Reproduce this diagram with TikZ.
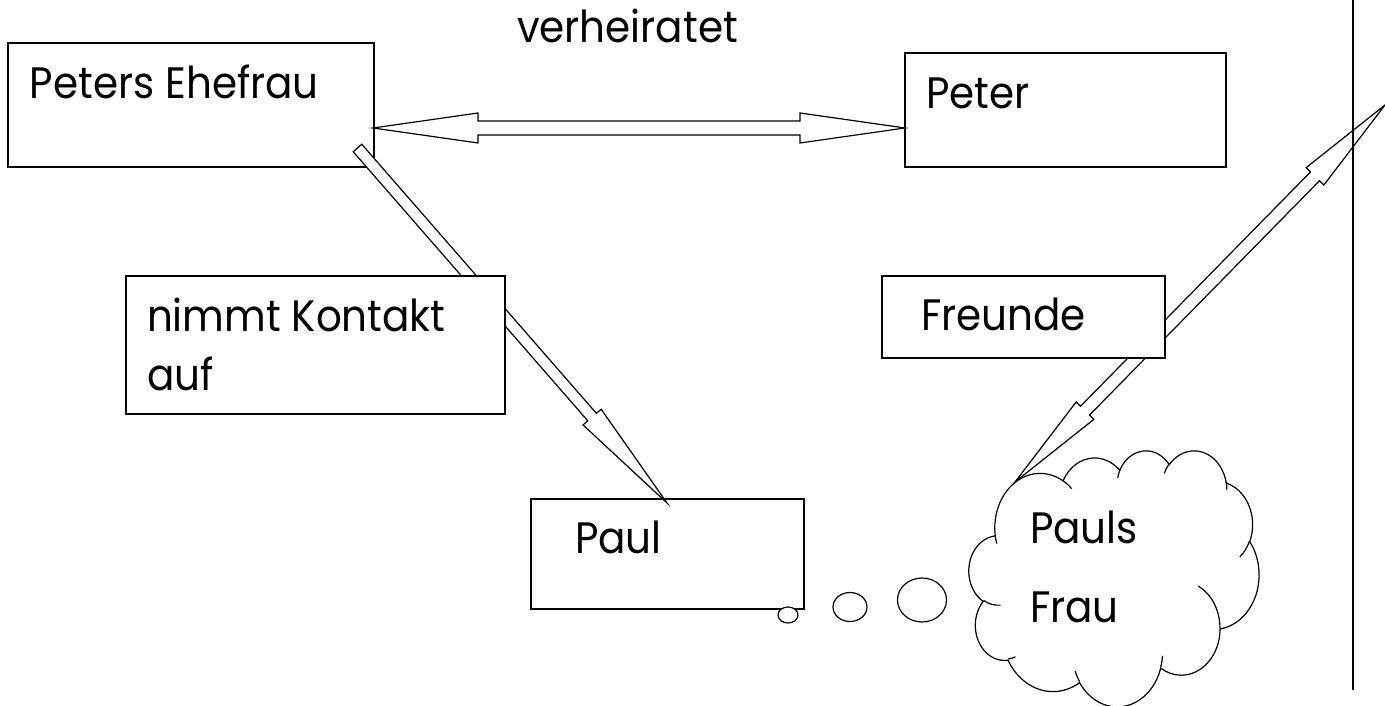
\documentclass[tikz,border=0pt]{standalone}
\usepackage{fontspec}
\setmainfont{Poppins}[FakeStretch=0.92]
\usetikzlibrary{calc,shapes.geometric}

\tikzset{
  box/.style={draw, line width=1.7pt, fill=white, inner sep=0pt, outer sep=0pt},
  txt/.style={font=\fontsize{44}{50}\selectfont, anchor=base west, inner sep=0pt, outer sep=0pt},
  fat/.style={draw, line width=1.2pt, fill=white, line join=miter},
  bubble/.style={ellipse, draw, line width=1.2pt, fill=white, inner sep=0pt},
  oarc/.style n args={4}{insert path={arc[x radius=#1, y radius=#2, start angle={pa(#1,#2,#3)}, delta angle={mod(pa(#1,#2,#3+#4)-pa(#1,#2,#3)+720,360)}]}},
}

\newcommand\fatarrow[5]{%
  \coordinate (fac) at ($(#2)!#5pt!(#1)$);
  \draw[fat] ($(#1)!#3pt!90:(#2)$) -- ($(fac)!#3pt!90:(#2)$) -- ($(fac)!#4pt!90:(#2)$) -- (#2)
    -- ($(fac)!#4pt!-90:(#2)$) -- ($(fac)!#3pt!-90:(#2)$) -- ($(#1)!#3pt!-90:(#2)$) -- cycle;
}
\newcommand\dblarrow[5]{%
  \coordinate (dac) at ($(#1)!#5pt!(#2)$);
  \coordinate (dad) at ($(#2)!#5pt!(#1)$);
  \draw[fat] (#1) -- ($(dac)!#4pt!90:(#2)$) -- ($(dac)!#3pt!90:(#2)$) -- ($(dad)!#3pt!90:(#2)$)
    -- ($(dad)!#4pt!90:(#2)$) -- (#2) -- ($(dad)!#4pt!-90:(#2)$) -- ($(dad)!#3pt!-90:(#2)$)
    -- ($(dac)!#3pt!-90:(#2)$) -- ($(dac)!#4pt!-90:(#2)$) -- cycle;
}

\begin{document}
\begin{tikzpicture}[x=1pt, y=1pt,
  declare function={pa(\w,\h,\a)=atan2(\w*sin(\a),\h*cos(\a));}]
\useasboundingbox (0,0) rectangle (1385,-706);

% boxes under the arrows
\node[box, minimum width=366pt, minimum height=124pt] (pe) at (191,-105) {};
\node[box, minimum width=321pt, minimum height=114pt] (pt) at (1065.5,-110) {};
\node[box, minimum width=273pt, minimum height=110pt] (pa) at (667.5,-554) {};

% arrow end points
\coordinate (h1) at (373,-128);
\coordinate (h2) at (905,-128);
\coordinate (d1a) at (357.5,-148);
\coordinate (d1b) at (667,-503);
\coordinate (d2a) at (1015,-482);
\coordinate (d2b) at (1385,-105);

\dblarrow{h1}{h2}{7}{15}{105}
\fatarrow{d1a}{d1b}{5.7}{12}{114}
\dblarrow{d2a}{d2b}{6.3}{12.4}{100}

% boxes over the arrows
\node[box, minimum width=379pt, minimum height=138pt] (nk) at (315.5,-345) {};
\node[box, minimum width=283pt, minimum height=82pt] (fr) at (1023.5,-317) {};

% cloud
\begin{scope}[shift={(969,-450)}, x=0.6713pt, y=-0.5926pt, line width=1.2pt]
\path[draw, fill=white] (39,143.70)
  [oarc={67.53}{91.90}{-190.4875}{123.7805}]
  [oarc={53.33}{72.67}{-144.1024}{89.9452}]
  [oarc={43.65}{59.45}{-145.8079}{99.7230}]
  [oarc={48.57}{65.95}{-130.9861}{117.2417}]
  [oarc={53.33}{72.73}{-78.7089}{109.0269}]
  [oarc={67.75}{92.20}{-46.2673}{130.2690}]
  [oarc={57.85}{78.67}{0.6250}{114.0333}]
  [oarc={67.52}{92.15}{22.4516}{115.1726}]
  [oarc={77.20}{105.43}{66.2426}{75.7110}]
  [oarc={43.60}{59.18}{-274.9421}{146.7356}]
  [oarc={43.45}{59.45}{-246.8285}{152.5189}]
  -- cycle;
\draw (46.93,261.77) [oarc={43.45}{59.45}{86.742}{26.4295}];
\draw (69.28,348.99) [oarc={43.60}{59.18}{73.6105}{11.4475}];
\draw (164.78,390.90) [oarc={67.52}{92.15}{137.6242}{14.0811}];
\draw (288.27,347.51) [oarc={67.52}{92.15}{6.4533}{15.9984}];
\draw (341.29,229.54) [oarc={57.85}{78.67}{-70.2924}{70.9174}];
\draw (417.98,153.54) [oarc={53.33}{72.73}{30.3180}{27.7515}];
\draw (383.24,54.26) [oarc={48.57}{65.95}{-13.7443}{14.8589}];
\draw (290.78,39.52) [oarc={48.57}{65.95}{-149.1815}{18.1954}];
\draw (221.41,47.20) [oarc={43.65}{59.45}{-163.4943}{17.6864}];
\draw (140.00,51.92) [oarc={67.53}{91.90}{-66.7070}{12.3194}];
\draw (41.27,157.89) [oarc={67.53}{91.90}{157.6544}{11.8582}];
\end{scope}

% thought bubbles
\node[bubble, minimum width=20pt, minimum height=16pt] (b1) at (788,-615) {};
\node[bubble, minimum width=34pt, minimum height=29pt] (b2) at (850,-607) {};
\node[bubble, minimum width=49pt, minimum height=44pt] (b3) at (922,-600) {};

% texts
\node[txt] (tv) at (517,-43) {verheiratet};
\node[txt] (tpe) at (30,-99) {Peters Ehefrau};
\node[txt] (tpt) at (926,-109) {Peter};
\node[txt] (tnk1) at (147,-331) {nimmt Kontakt};
\node[txt] (tnk2) at (147,-390) {auf};
\node[txt] (tpa) at (575,-553) {Paul};
\node[txt] (tfr) at (921,-330) {Freunde};
\node[txt] (tcl1) at (1030,-543) {Pauls};
\node[txt] (tcl2) at (1030,-622) {Frau};

% vertical line
\coordinate (v1) at (1353,0);
\coordinate (v2) at (1353,-690);
\draw[line width=1.7pt] (v1) -- (v2);
\end{tikzpicture}
\end{document}
